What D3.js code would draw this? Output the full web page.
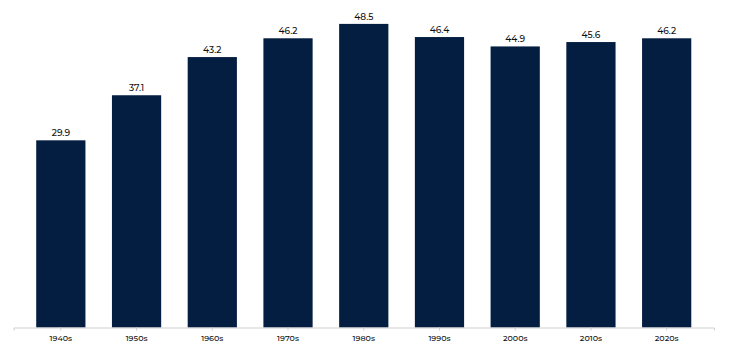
<!DOCTYPE html>
<html>
<head>
<meta charset="utf-8">
<script src="https://cdn.jsdelivr.net/npm/d3@7"></script>
<style>
  html, body { margin: 0; padding: 0; background: #fff; }
  svg { display: block; }
</style>
</head>
<body>
<svg id="chart" width="730" height="344"></svg>
<script>
const categories = ["1940s", "1950s", "1960s", "1970s", "1980s", "1990s", "2000s", "2010s", "2020s"];
const values = [29.9, 37.1, 43.2, 46.2, 48.5, 46.4, 44.9, 45.6, 46.2];
const valueLabels = ["29.9", "37.1", "43.2", "46.2", "48.5", "46.4", "44.9", "45.6", "46.2"];

const svg = d3.select("#chart");
const x = d3.scaleBand().domain(categories).range([13.5, 714]).paddingInner(0.35).paddingOuter(0.3);
const y = d3.scaleLinear().domain([0, 50]).range([327.5, 14.5]);

const fontFam = "Montserrat, 'Noto Sans', 'DejaVu Sans', sans-serif";

svg.append("g").selectAll("rect").data(values).join("rect")
  .attr("x", (d, i) => x(categories[i]))
  .attr("y", d => y(d))
  .attr("width", x.bandwidth())
  .attr("height", d => y(0) - y(d))
  .attr("fill", "#041e42");

svg.append("g").selectAll("text").data(values).join("text")
  .attr("x", (d, i) => x(categories[i]) + x.bandwidth() / 2)
  .attr("y", d => y(d) - 4)
  .attr("text-anchor", "middle")
  .attr("font-family", fontFam)
  .attr("font-size", 9)
  .attr("font-weight", 500)
  .attr("fill", "#111")
  .text((d, i) => valueLabels[i]);

const axis = svg.append("g").attr("transform", `translate(0,${y(0)})`)
  .call(d3.axisBottom(x).tickSizeInner(3).tickSizeOuter(3).tickPadding(5));
axis.select(".domain").attr("stroke", "#cfcfcf");
axis.selectAll(".tick line").attr("stroke", "#cfcfcf");
axis.selectAll(".tick text")
  .attr("font-family", fontFam)
  .attr("font-size", 8)
  .attr("font-weight", 500)
  .attr("fill", "#111");
</script>
</body>
</html>
